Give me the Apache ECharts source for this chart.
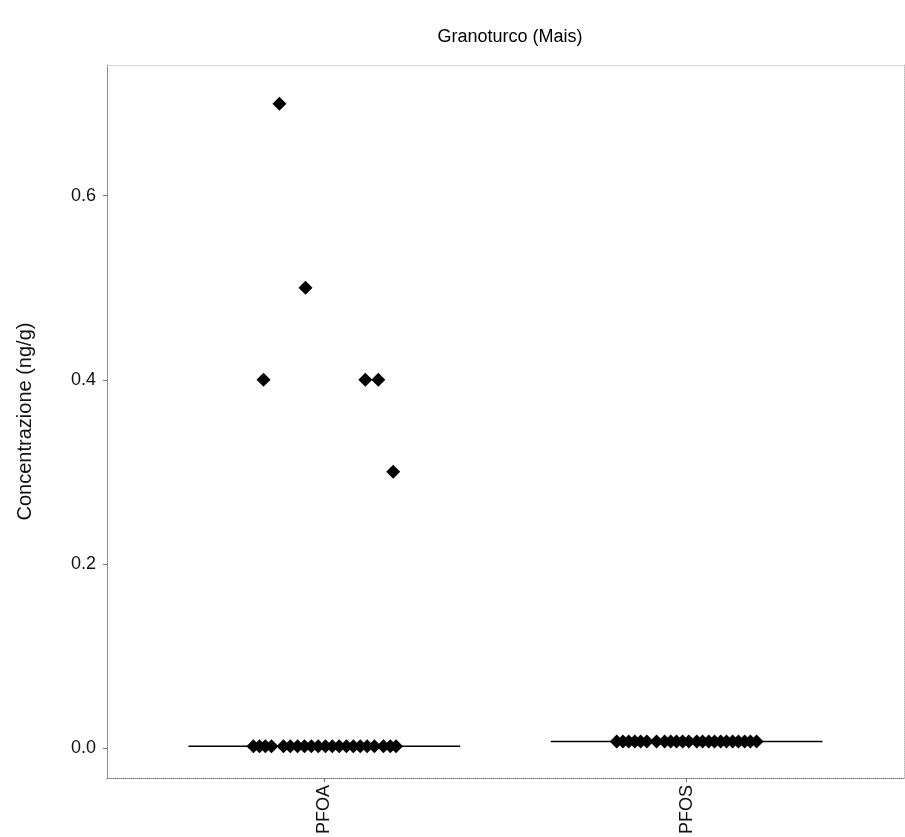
<!DOCTYPE html>
<html><head><meta charset="utf-8">
<script src="https://cdn.jsdelivr.net/npm/echarts@6/dist/echarts.min.js"></script>
<style>html,body{margin:0;padding:0;background:#fff}#c{width:905px;height:837px}</style>
</head><body><div id="c"></div>
<script>
const categories = ['PFOA', 'PFOS'];
const yTicks = [0.0, 0.2, 0.4, 0.6];
// jittered x positions (category 1 = PFOA, 2 = PFOS) and concentrations
const pfoaX = [0.804,0.821,0.837,0.854,0.887,0.906,0.926,0.945,0.964,0.983,1.003,1.022,1.041,1.061,1.080,1.099,1.118,1.138,1.163,1.182,1.198, 0.876,0.948,0.832,1.113,1.149,1.190];
const pfoaY = [0.002,0.002,0.002,0.002,0.002,0.002,0.002,0.002,0.002,0.002,0.002,0.002,0.002,0.002,0.002,0.002,0.002,0.002,0.002,0.002,0.002, 0.7,0.5,0.4,0.4,0.4,0.3];
const pfosX = [1.807,1.824,1.840,1.857,1.873,1.890,1.917,1.939,1.956,1.972,1.989,2.006,2.028,2.044,2.061,2.077,2.094,2.110,2.127,2.143,2.160,2.176,2.193];
const pfosY = [0.007,0.007,0.007,0.007,0.007,0.007,0.007,0.007,0.007,0.007,0.007,0.007,0.007,0.007,0.007,0.007,0.007,0.007,0.007,0.007,0.007,0.007,0.007];
const medians = [0.002, 0.007];
const boxHalfWidth = 0.375;

const pts = (xs, ys) => xs.map((x, i) => [x, ys[i]]);
const medianSeries = medians.map((m, i) => ({
  type: 'line', symbol: 'none', silent: true,
  data: [[i + 1 - boxHalfWidth, m], [i + 1 + boxHalfWidth, m]],
  lineStyle: { color: '#000', width: 1.5 }, z: 2
}));

const chart = echarts.init(document.getElementById('c'));
chart.setOption({
  animation: false,
  textStyle: { fontFamily: 'Liberation Sans, Arial, sans-serif' },
  title: { text: 'Granoturco (Mais)', left: 505, top: 23, textAlign: 'center',
    textStyle: { fontSize: 18, fontWeight: 'normal', color: '#000' } },
  grid: { left: 107, right: 1, top: 65, bottom: 59 },
  xAxis: [{
    type: 'value', min: 0.4, max: 2.6,
    axisLine: { show: true, onZero: false, lineStyle: { color: '#777', type: 'dotted' } },
    axisTick: { show: true, customValues: [1, 2], length: 4, lineStyle: { color: '#777' } },
    axisLabel: { customValues: [1, 2], rotate: 90, fontSize: 18, color: '#111', margin: 7,
      formatter: v => categories[Math.round(v) - 1] || '' },
    splitLine: { show: false }
  }, {
    type: 'value', position: 'top', min: 0.4, max: 2.6,
    axisLine: { show: true, onZero: false, lineStyle: { color: '#ccc', type: 'dotted' } },
    axisTick: { show: false }, axisLabel: { show: false }, splitLine: { show: false }
  }],
  yAxis: [{
    type: 'value', min: -0.0326, max: 0.742,
    name: 'Concentrazione (ng/g)', nameLocation: 'middle', nameGap: 72,
    nameTextStyle: { fontSize: 20, color: '#111' },
    axisLine: { show: true, onZero: false, lineStyle: { color: '#777', type: 'dotted' } },
    axisTick: { show: true, customValues: yTicks, length: 4, lineStyle: { color: '#777' } },
    axisLabel: { customValues: yTicks, fontSize: 18, color: '#111', margin: 11,
      formatter: v => v.toFixed(1) },
    splitLine: { show: false }
  }, {
    type: 'value', position: 'right', min: -0.0326, max: 0.742,
    axisLine: { show: true, onZero: false, lineStyle: { color: '#bbb', type: 'dotted' } },
    axisTick: { show: false }, axisLabel: { show: false }, splitLine: { show: false }
  }],
  series: [
    ...medianSeries,
    { type: 'scatter', symbol: 'diamond', symbolSize: 14, data: pts(pfoaX, pfoaY),
      itemStyle: { color: '#000', opacity: 1 }, z: 3 },
    { type: 'scatter', symbol: 'diamond', symbolSize: 14, data: pts(pfosX, pfosY),
      itemStyle: { color: '#000', opacity: 1 }, z: 3 }
  ]
});
</script></body></html>
